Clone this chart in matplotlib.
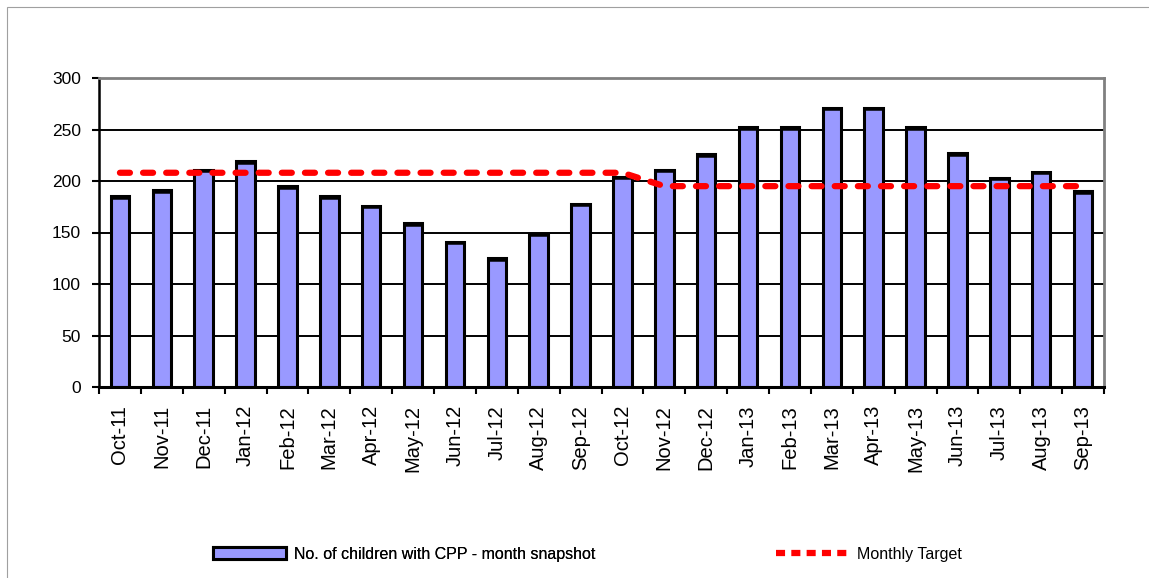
"""
Monthly snapshot of children with a CPP against the monthly target.
"""

import matplotlib
matplotlib.use("Agg")
import matplotlib.pyplot as plt
from matplotlib.patches import Patch, Rectangle
from matplotlib.lines import Line2D
import numpy as np

plt.rcParams["font.family"] = ["Liberation Sans", "DejaVu Sans"]

MONTHS = ["Oct-11", "Nov-11", "Dec-11", "Jan-12", "Feb-12", "Mar-12",
          "Apr-12", "May-12", "Jun-12", "Jul-12", "Aug-12", "Sep-12",
          "Oct-12", "Nov-12", "Dec-12", "Jan-13", "Feb-13", "Mar-13",
          "Apr-13", "May-13", "Jun-13", "Jul-13", "Aug-13", "Sep-13"]

# children with CPP - month snapshot
CPP_COUNT = [185, 191, 211, 219, 195, 185, 176, 159, 141, 125, 149, 178,
             204, 211, 226, 252, 252, 271, 271, 252, 227, 203, 209, 190]

MONTHLY_TARGET = [208, 208, 208, 208, 208, 208, 208, 208, 208, 208, 208, 208,
                  208, 195, 195, 195, 195, 195, 195, 195, 195, 195, 195, 195]

Y_TICKS = [0, 50, 100, 150, 200, 250, 300]

W, H = 1149, 578
fig = plt.figure(figsize=(W / 100, H / 100), dpi=100)
ax = fig.add_axes([99 / W, 1 - 387 / H, (1104 - 99) / W, (387 - 78) / H])

x = np.arange(len(MONTHS))
bar_w = 0.44

# gridlines behind everything
for yv in Y_TICKS[1:-1]:
    ax.axhline(yv, color="black", linewidth=1.4, zorder=0)

ax.bar(x, CPP_COUNT, width=bar_w, color="#9999FF", edgecolor="black",
       linewidth=2.2, zorder=2)
# the old chart draws a heavier top edge on each bar
ax.hlines(np.array(CPP_COUNT) - 1.5, x - bar_w / 2, x + bar_w / 2,
          color="black", linewidth=1.8, zorder=2)

ax.plot(x, MONTHLY_TARGET, color="#FF0000", linewidth=4.5,
        dashes=(1.6, 2.1), dash_capstyle="round", zorder=3)

ax.set_xlim(-0.5, len(MONTHS) - 0.5)
ax.set_ylim(0, 300)

ax.set_yticks(Y_TICKS)
ax.set_yticklabels([str(v) for v in Y_TICKS], fontsize=12.5)
ax.tick_params(axis="y", direction="out", length=5, width=1.5, pad=8,
               colors="black")

ax.set_xticks(x)
ax.set_xticklabels(MONTHS, rotation=90, fontsize=14.5)
ax.tick_params(axis="x", which="major", length=0, pad=13)
ax.set_xticks(np.arange(-0.5, len(MONTHS)), minor=True)
ax.tick_params(axis="x", which="minor", direction="out", length=5, width=1.5)

for side in ("top", "right"):
    ax.spines[side].set_color("#808080")
    ax.spines[side].set_linewidth(2)
ax.spines["left"].set_color("black")
ax.spines["left"].set_linewidth(1.8)
ax.spines["bottom"].set_color("black")
ax.spines["bottom"].set_linewidth(2.2)

# legend, two entries spread apart as in the original sheet
bar_handle = Patch(facecolor="#9999FF", edgecolor="black", linewidth=2.2)
line_handle = Line2D([0], [0], color="#FF0000", linewidth=4.5,
                     dashes=(1.45, 1.0), dash_capstyle="butt")

leg1 = fig.legend(handles=[bar_handle],
                  labels=["No. of children with CPP - month snapshot"],
                  loc="center left", bbox_to_anchor=(213 / W, 1 - 554 / H),
                  frameon=False, fontsize=11.5, handlelength=4.6,
                  handleheight=0.75, handletextpad=0.5, borderpad=0,
                  borderaxespad=0)
fig.add_artist(leg1)
fig.legend(handles=[line_handle], labels=["Monthly Target"],
           loc="center left", bbox_to_anchor=(776 / W, 1 - 554 / H),
           frameon=False, fontsize=11.5, handlelength=4.6,
           handletextpad=0.5, borderpad=0, borderaxespad=0)

# thin frame of the chart object
fig.add_artist(Rectangle((7 / W, -0.5), 2, 0.5 + 1 - 7 / H,
                         transform=fig.transFigure, fill=False,
                         edgecolor="#A0A0A0", linewidth=0.8))

fig.savefig("out.png", dpi=100)
